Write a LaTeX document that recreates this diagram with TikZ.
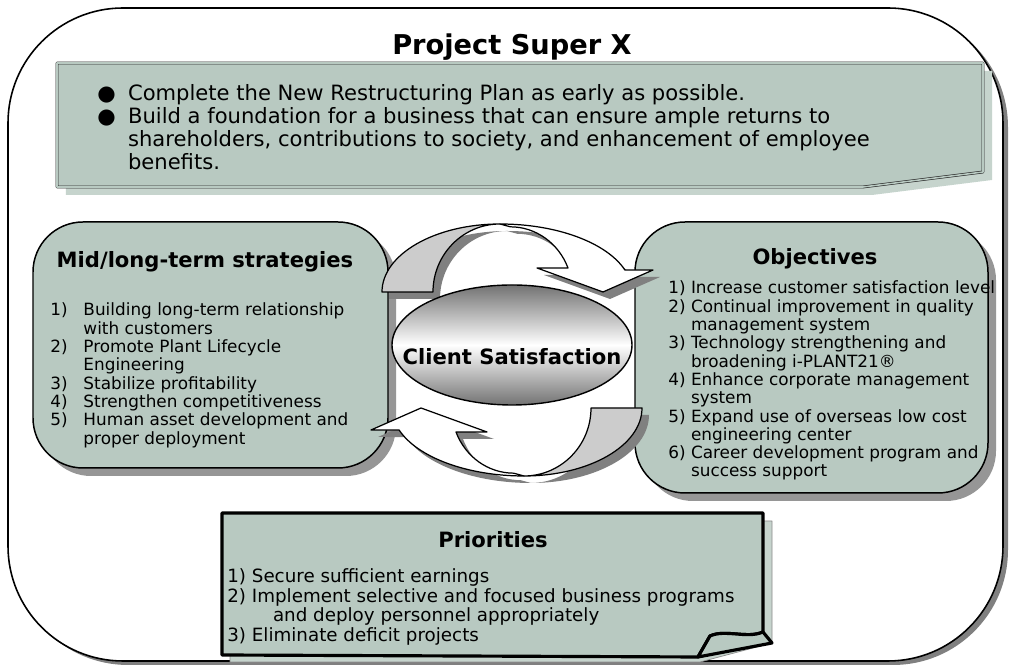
\documentclass[tikz,border=0pt]{standalone}
\usepackage{fontspec}
\setmainfont{DejaVu Sans}
\usepackage{xcolor}
\usetikzlibrary{positioning, shapes.geometric, shadows}
\definecolor{panelgreen}{RGB}{184,201,193}
\definecolor{panelshade}{RGB}{198,212,205}
\definecolor{shadowgray}{RGB}{128,128,128}
\definecolor{cardshadow}{RGB}{150,150,150}
\definecolor{backgray}{RGB}{204,204,204}

\begin{document}
\begin{tikzpicture}[line join=round]

        % Styles
        \tikzset{
            frame/.style={draw=black, line width=0.9pt, fill=white, rounded corners=2.3cm,
                drop shadow={shadow xshift=0.1cm, shadow yshift=-0.08cm, fill=shadowgray, opacity=1}},
            banner/.style={draw=black!85, line width=0.35pt, double=panelgreen, double distance=0.9pt, fill=panelgreen,
                drop shadow={shadow xshift=0.18cm, shadow yshift=-0.16cm, fill=panelshade, opacity=1}},
            card/.style={draw=black, line width=0.85pt, fill=panelgreen, rounded corners=1cm,
                drop shadow={shadow xshift=0.16cm, shadow yshift=-0.16cm, fill=cardshadow, opacity=1}},
            notebox/.style={draw=black, line width=1.8pt, fill=panelgreen},
            noteshade/.style={draw=black!45, line width=0.4pt, fill=panelshade},
            heading/.style={anchor=base, inner sep=0pt, font=\fontsize{12}{14}\selectfont\bfseries},
            itemlist/.style={anchor=base west, inner sep=0pt, font=\fontsize{9.6}{10.4}\selectfont},
            hub/.style={ellipse, draw=black, line width=0.8pt, minimum width=4.8cm, minimum height=2.4cm,
                top color=black!55, bottom color=black!55, middle color=white},
            loopback/.style={fill=backgray, draw=black, line width=0.7pt},
            loopfront/.style={fill=white, draw=black, line width=0.7pt},
            halfloop/.pic={
                % underside of the ribbon, rising from the tail
                \path[loopback] (-2.36,0) arc[start angle=180, end angle=90, x radius=2.36, y radius=1.36]
                    arc[start angle=90, end angle=180, x radius=1.34, y radius=1.36] -- cycle;
                % upper side of the ribbon, ending in the head
                \path[loopfront] (0,1.36) arc[start angle=90, end angle=18.9, x radius=2.64, y radius=1.36]
                    -- (3.06,0.44) -- (2.06,0) -- (0.74,0.48) -- (1.36,0.48)
                    arc[start angle=21.5, end angle=90, x radius=1.24, y radius=1.3] -- cycle;
            }
        }

        \useasboundingbox (0,0) rectangle (20.22,13.34);

        % --- Outer frame and title ---
        \draw[frame] (0.16,0.12) rectangle (20.06,13.18);
        \node[font=\fontsize{15.5}{18}\selectfont\bfseries, anchor=base] (title) at (10.24,12.24) {Project Super X};

        % --- Goal banner ---
        \draw[banner] (1.14,12.08) -- (19.66,12.08) -- (19.66,9.9) -- (17.26,9.6) -- (1.14,9.6) -- cycle;
        \node[anchor=base west, inner sep=0pt, font=\fontsize{12}{12.8}\selectfont] (goals) at (1.94,11.32) {%
            \begin{tabular}[t]{@{}l@{\hspace{7pt}}l@{}}
                ● & Complete the New Restructuring Plan as early as possible.\\
                ● & Build a foundation for a business that can ensure ample returns to\\
                  & shareholders, contributions to society, and enhancement of employee\\
                  & benefits.
            \end{tabular}};

        % --- Strategies (left) ---
        \node[card, minimum width=7.1cm, minimum height=4.92cm] (strat) at (4.21,6.44) {};
        \node[heading] (strattitle) at (4.1,7.98) {Mid/long-term strategies};
        \node[itemlist] (stratlist) at (1.0,7.02) {%
            \begin{tabular}[t]{@{}l@{\hspace{9pt}}l@{}}
                1) & Building long-term relationship\\
                   & with customers\\
                2) & Promote Plant Lifecycle\\
                   & Engineering\\
                3) & Stabilize profitability\\
                4) & Strengthen competitiveness\\
                5) & Human asset development and\\
                   & proper deployment
            \end{tabular}};

        % --- Objectives (right) ---
        \node[card, minimum width=7.06cm, minimum height=5.42cm] (obj) at (16.23,6.19) {};
        \node[heading] (objtitle) at (16.3,8.04) {Objectives};
        \node[itemlist] (objlist) at (13.36,7.46) {%
            \begin{tabular}[t]{@{}l@{\ }l@{}}
                1) & Increase customer satisfaction level\\
                2) & Continual improvement in quality\\
                   & management system\\
                3) & Technology strengthening and\\
                   & broadening i-PLANT21®\\
                4) & Enhance corporate management\\
                   & system\\
                5) & Expand use of overseas low cost\\
                   & engineering center\\
                6) & Career development program and\\
                   & success support
            \end{tabular}};

        % --- Priorities (bottom) ---
        \draw[noteshade] (4.6,0.1) -- (14.0,0.1) -- (15.44,0.48) -- (15.44,2.92) -- (4.6,2.92) -- cycle;
        \draw[notebox] (4.44,3.08) -- (15.26,3.08) -- (15.26,0.7)
            .. controls (14.95,0.56) and (14.5,0.76) .. (14.2,0.62) -- (13.96,0.2) -- (4.44,0.24) -- cycle;
        \draw[notebox] (14.2,0.62) -- (13.96,0.2) -- (15.44,0.48) -- (15.26,0.7)
            .. controls (14.95,0.56) and (14.5,0.76) .. (14.2,0.62) -- cycle;
        \node[heading] (priotitle) at (9.86,2.38) {Priorities};
        \node[itemlist, font=\fontsize{10.4}{10.6}\selectfont] (priolist) at (4.54,1.68) {%
            \begin{tabular}[t]{@{}l@{\ }l@{}}
                1) & Secure sufficient earnings\\
                2) & Implement selective and focused business programs\\
                   & \hspace{12pt}and deploy personnel appropriately\\
                3) & Eliminate deficit projects
            \end{tabular}};

        % --- Cycle arrows around the hub ---
        \begin{scope}[loopback/.style={fill=shadowgray}, loopfront/.style={fill=shadowgray}]
            \pic at (10.14,7.36) {halfloop};
            \pic[rotate=180] at (10.62,5.04) {halfloop};
        \end{scope}
        \pic at (10.0,7.5) {halfloop};
        \pic[rotate=180] at (10.48,5.18) {halfloop};

        \node[hub] (hub) at (10.24,6.44) {};
        \node[font=\fontsize{12}{14}\selectfont\bfseries, yshift=-0.24cm] (hublabel) at (hub.center) {Client Satisfaction};

    \end{tikzpicture}
\end{document}
